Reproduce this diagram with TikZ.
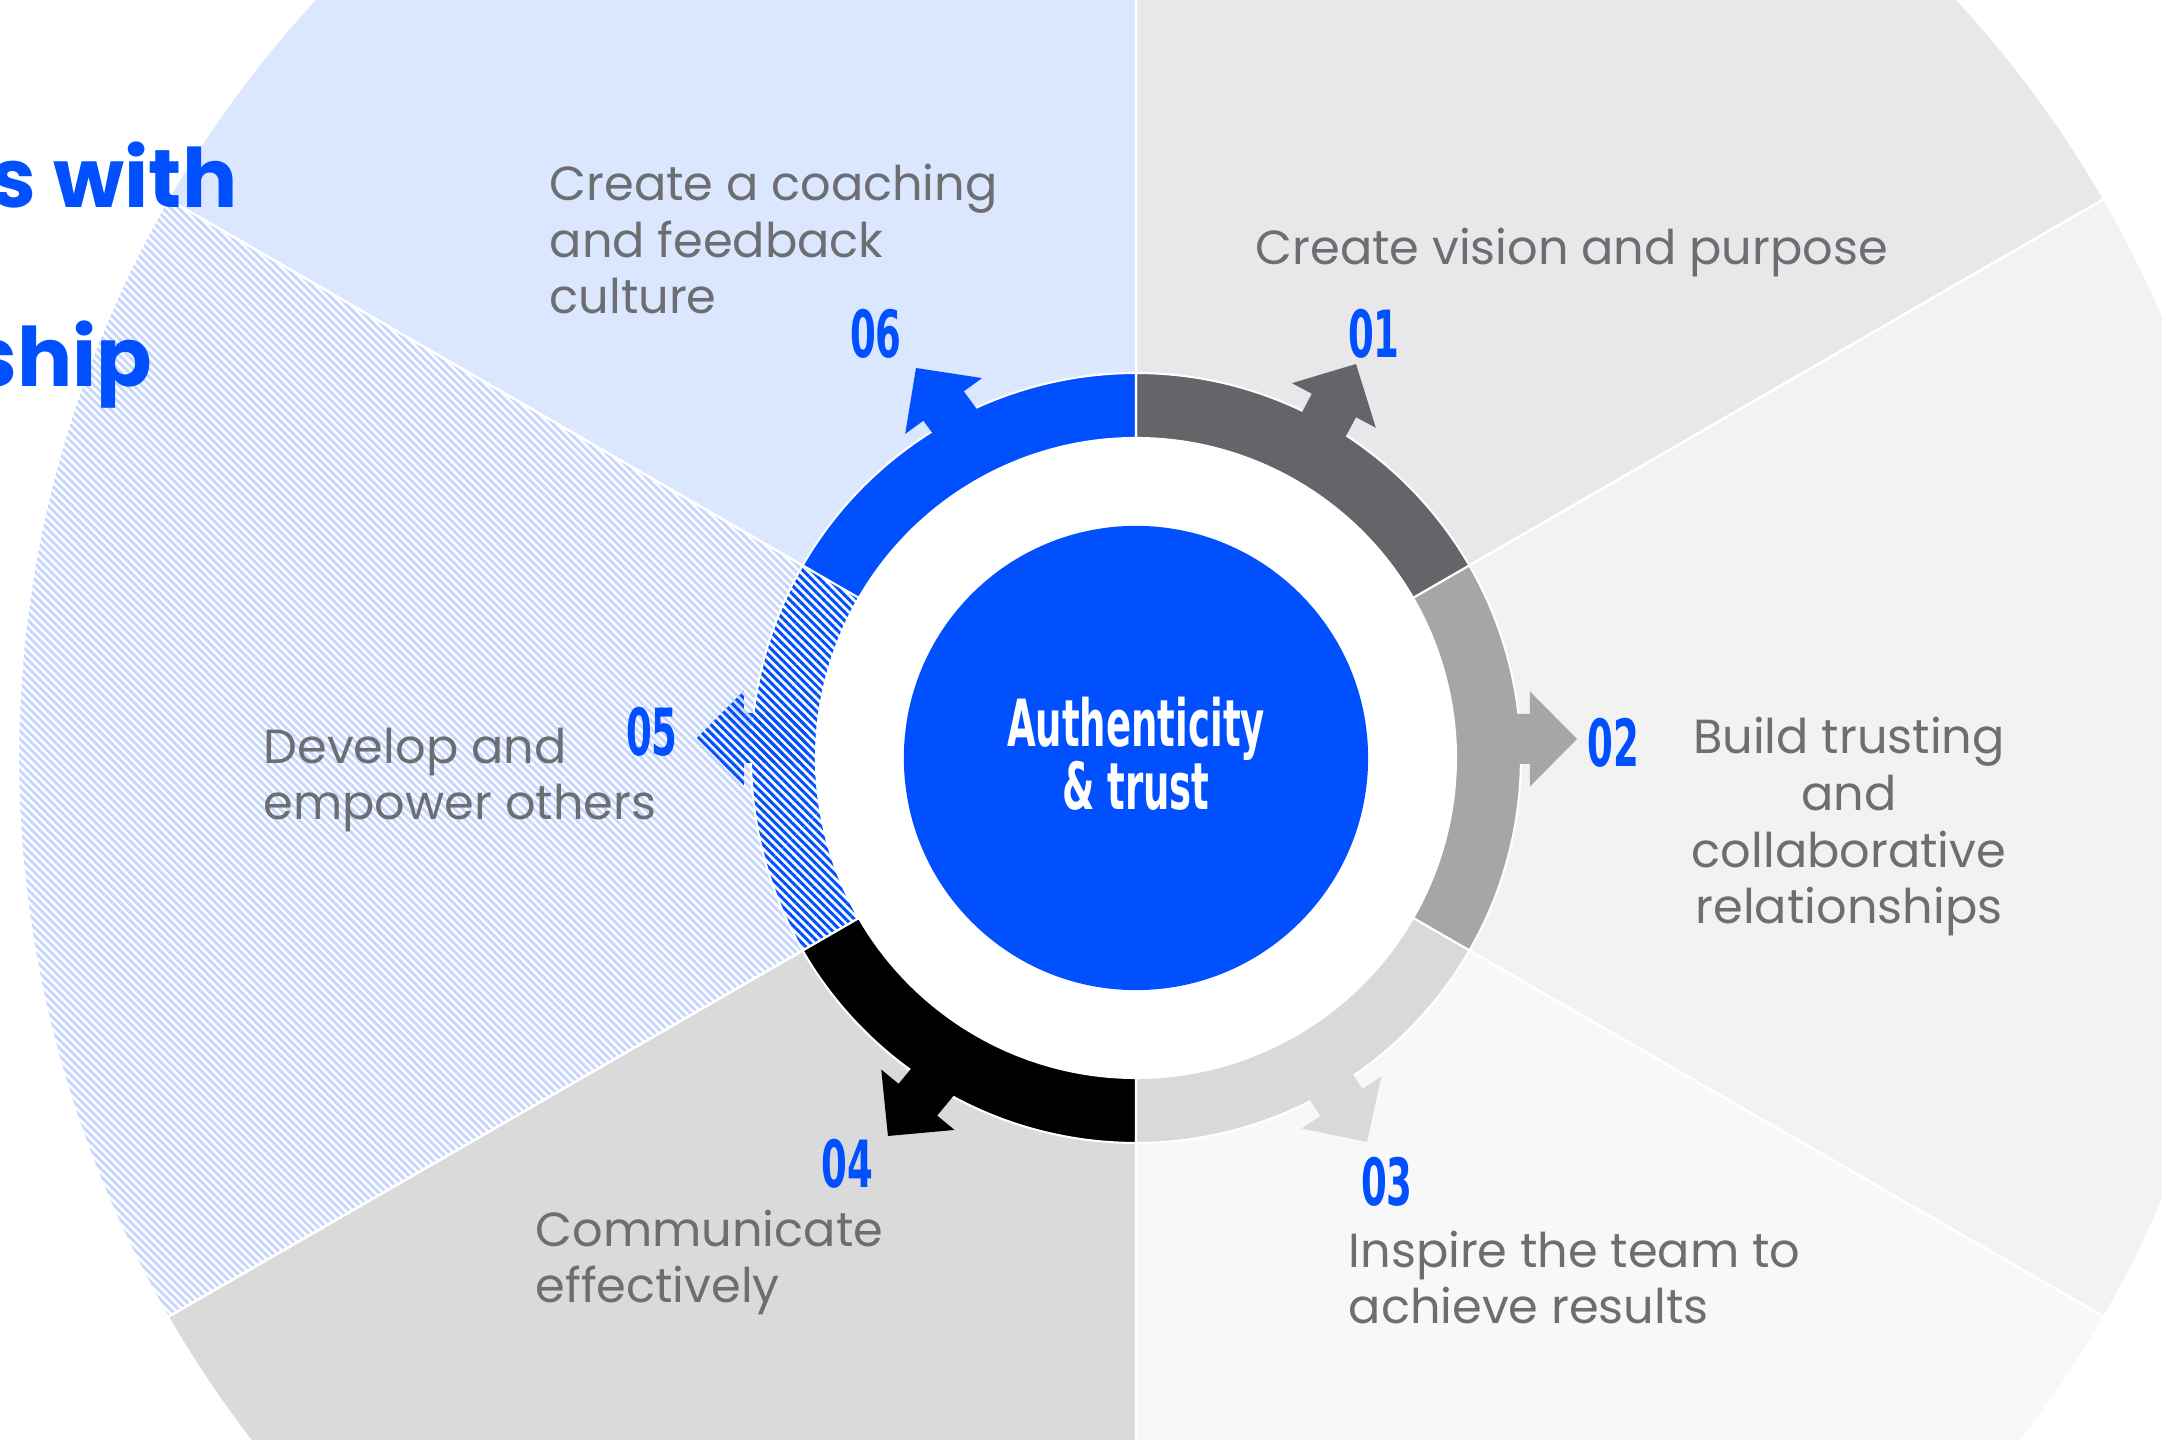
\documentclass[tikz,border=0pt]{standalone}
\usepackage{fontspec}
\setmainfont{Poppins}
\newfontfamily\numfont[FakeStretch=0.57]{DejaVu Sans Bold}
\usetikzlibrary{patterns.meta}

\definecolor{brand}{HTML}{0050FF}
\definecolor{txtgray}{HTML}{6D6E71}
\definecolor{ringA}{HTML}{636569}
\definecolor{ringB}{HTML}{A6A6A6}
\definecolor{ringC}{HTML}{D9D9D9}
\definecolor{ringD}{HTML}{000000}
\definecolor{wedA}{HTML}{E8E8EA}
\definecolor{wedB}{HTML}{F2F2F2}
\definecolor{wedC}{HTML}{F8F8F8}
\definecolor{wedD}{HTML}{DADADA}
\definecolor{wedF}{HTML}{DBE6FF}
\definecolor{hatchlight}{HTML}{C6D6FF}

\tikzset{
  wedge/.style={draw=white, line width=0.7pt},
  ringseg/.style={draw=white, line width=0.6pt},
  lighthatch/.style={pattern={Lines[angle=-45,distance=0.056cm,line width=0.028cm]}, pattern color=hatchlight},
  darkhatch/.style={preaction={fill=white}, pattern={Lines[angle=-45,distance=0.06cm,line width=0.03cm]}, pattern color=brand},
  lbl/.style={text=txtgray, font=\fontsize{13.6}{16.2}\selectfont, inner sep=0pt},
  num/.style={text=brand, font=\numfont\fontsize{18.5}{18.5}\selectfont, inner sep=0pt},
  title/.style={text=brand, font=\bfseries\fontsize{23.3}{24}\selectfont, inner sep=0pt},
  ringarrow/.pic={
    \path[pic actions] (0,0) -- (-47,47.5) -- (-47,25) -- (-110,25)
      -- (-110,-25) -- (-47,-25) -- (-47,-47.5) -- cycle;
  }
}

\begin{document}
\begin{tikzpicture}[x=0.01cm, y=0.01cm]
\useasboundingbox (-1136,-682) rectangle (1026,758);
\fill[white] (-1136,-682) rectangle (1026,758);

% outer wedges
\foreach \a/\b/\c in {30/90/wedA, -30/30/wedB, -90/-30/wedC, 210/270/wedD, 90/150/wedF}
  \fill[\c, wedge] (0,0) -- (\a:1118) arc[start angle=\a, end angle=\b, radius=1118] -- cycle;
\path[lighthatch, wedge] (0,0) -- (150:1118) arc[start angle=150, end angle=210, radius=1118] -- cycle;

% white gap between the ring and the core
\fill[white] (0,0) circle[radius=320];

% ring segments
\foreach \a/\b/\c in {30/90/ringA, -30/30/ringB, -90/-30/ringC, 210/270/ringD, 90/150/brand}
  \fill[\c, ringseg] (\a:320) arc[start angle=\a, end angle=\b, radius=320]
    -- (\b:385) arc[start angle=\b, end angle=\a, radius=385] -- cycle;
\path[darkhatch, ringseg] (150:320) arc[start angle=150, end angle=210, radius=320]
    -- (210:385) arc[start angle=210, end angle=150, radius=385] -- cycle;

% arrows leaving the ring
\pic[fill=ringA, rotate=62] at (220,394) {ringarrow};
\pic[fill=ringB, rotate=0] at (441,19) {ringarrow};
\pic[fill=ringC, rotate=-57] at (231,-384) {ringarrow};
\pic[fill=ringD, rotate=230.5] at (-248,-378) {ringarrow};
\pic[darkhatch, rotate=180] at (-439,20) {ringarrow};
\pic[fill=brand, rotate=126] at (-220,390) {ringarrow};

% core
\node (core) [circle, fill=brand, minimum size=4.64cm, inner sep=0pt] at (0,0) {};
\node (coretext) [text=white, font=\numfont\fontsize{18.5}{17.9}\selectfont, align=center, inner sep=0pt] at (0,4.5) {Authenticity\\\& trust};

% step numbers
\node (n01) [num] at (238,424.5) {01};
\node (n02) [num] at (477.5,15.5) {02};
\node (n03) [num] at (251,-423.5) {03};
\node (n04) [num] at (-288.5,-405.5) {04};
\node (n05) [num] at (-484,26) {05};
\node (n06) [num] at (-260,424.5) {06};

% step descriptions (base anchor sits on the last line)
\node (t01) [lbl, anchor=base west] at (119,493) {Create vision and purpose};
\node (t06) [lbl, anchor=base west, align=left] at (-587,444) {Create a coaching\\and feedback\\culture};
\node (t02) [lbl, anchor=base, align=center] at (713,-166) {Build trusting\\and\\collaborative\\relationships};
\node (t05) [lbl, anchor=base west, align=left] at (-873,-62) {Develop and\\empower others};
\node (t04) [lbl, anchor=base west, align=left] at (-601,-545) {Communicate\\effectively};
\node (t03) [lbl, anchor=base west, align=left] at (212,-566) {Inspire the team to\\achieve results};

% heading, running off the left edge
\node (headA) [title, anchor=base east] at (-898,550) {ts with};
\node (headB) [title, anchor=base east] at (-983,371) {ship};
\end{tikzpicture}
\end{document}
